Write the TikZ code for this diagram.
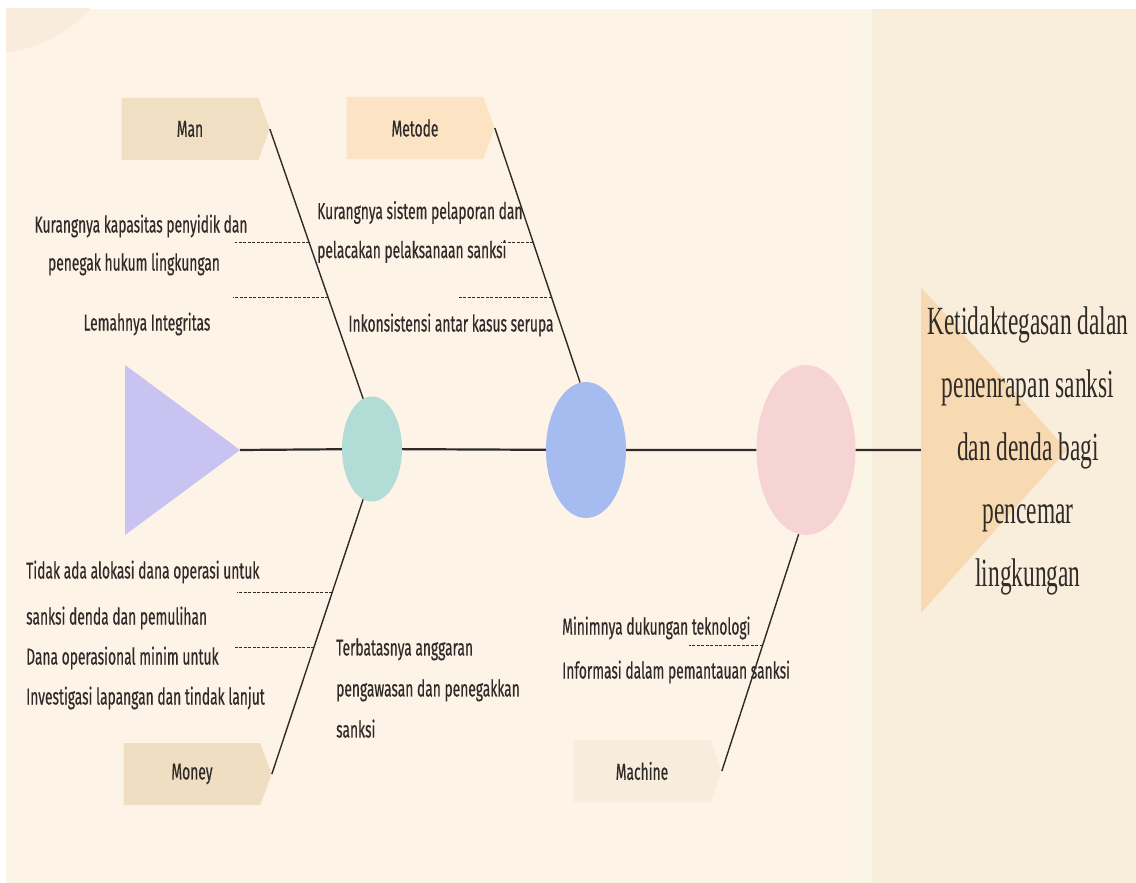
\documentclass[tikz,border=0pt]{standalone}
\usepackage{fontspec}
\newfontfamily\labelfont[FakeStretch=0.6,FakeBold=0.4]{Fira Sans}
\newfontfamily\headfont[FakeStretch=0.585]{Liberation Serif}
\usetikzlibrary{calc,shapes.geometric,shapes.symbols}
\definecolor{cream}{HTML}{FDF3E7}
\definecolor{panel}{HTML}{F9EDDC}
\definecolor{seam}{HTML}{FBF5E6}
\definecolor{corner}{HTML}{F9ECDC}
\definecolor{ink}{HTML}{2F2B28}
\definecolor{manc}{HTML}{F1DFC4}
\definecolor{metc}{HTML}{FCE3C3}
\definecolor{monc}{HTML}{F0DEC3}
\definecolor{macc}{HTML}{F8EDDC}
\definecolor{tailc}{HTML}{C9C3F1}
\definecolor{tealc}{HTML}{B2DDD6}
\definecolor{bluec}{HTML}{A6BBF0}
\definecolor{pinkc}{HTML}{F7D4D4}
\definecolor{headc}{HTML}{F8DAB2}
\begin{document}
\begin{tikzpicture}[x=1pt,y=-1pt,
  spine/.style={draw=ink,line width=2.2pt},
  bone/.style={draw=ink,line width=1.4pt},
  sub/.style={draw=ink,line width=0.9pt,dash pattern=on 3pt off 1.5pt},
  cat/.style={shape=signal,signal to=east,signal pointer angle=140,inner sep=0pt,
    minimum width=148pt,minimum height=62pt,text=ink,font=\labelfont\fontsize{23}{26}\selectfont},
  lbl/.style={inner sep=0pt,text=ink,align=left,font=\labelfont\fontsize{23}{40}\selectfont},
  blob/.style={ellipse,inner sep=0pt},
  fin/.style={isosceles triangle,isosceles triangle stretches,inner sep=0pt,outer sep=0pt,anchor=west}]
\useasboundingbox (0,0) rectangle (1136,883);
\fill[white] (0,0) rectangle (1136,883);
\fill[cream] (6,9) rectangle (872,883);
\fill[seam] (858,9) rectangle (872,883);
\fill[panel] (872,9) rectangle (1136,883);
\begin{scope}
\clip (6,9) rectangle (858,883);
\fill[corner] (-8,-77) circle (130);
\end{scope}

\node[fin,fill=tailc,minimum width=170pt,minimum height=115pt] (tail) at (125,450) {};
\node[fin,fill=headc,minimum width=326pt,minimum height=146pt] (head) at (921,450) {};
\node[blob,fill=tealc,minimum width=60pt,minimum height=105pt] (e1) at (372,449) {};
\node[blob,fill=bluec,minimum width=80pt,minimum height=136pt] (e2) at (586,450) {};
\node[blob,fill=pinkc,minimum width=99pt,minimum height=170pt] (e3) at (806,450) {};

\node[cat,fill=manc] (man) at (190,129) {Man};
\node[cat,fill=metc] (metode) at (415,128) {Metode};
\node[cat,fill=monc] (money) at (192,774) {Money};
\node[cat,fill=macc] (machine) at (642,771) {Machine};

\draw[spine] (tail.apex) -- (e1) (e1) -- (e2) (e2) -- (e3) (e3) -- (head);
\draw[bone] (man.east) -- (e1.100);
\draw[bone] (metode.east) -- (e2.95);
\draw[bone] (money.east) -- (e1.260);
\draw[bone] (machine.east) -- (e3.265);

\coordinate (man1) at ($(man.east)!0.422!(e1.100)$);
\coordinate (man2) at ($(man.east)!0.626!(e1.100)$);
\coordinate (met1) at ($(metode.east)!0.451!(e2.95)$);
\coordinate (met2) at ($(metode.east)!0.667!(e2.95)$);
\coordinate (mon1) at ($(money.east)!0.662!(e1.260)$);
\coordinate (mon2) at ($(money.east)!0.462!(e1.260)$);
\coordinate (mac1) at ($(machine.east)!0.532!(e3.265)$);
\draw[sub] (man1) -- ++(-74,0);
\draw[sub] (man2) -- ++(-95,0);
\draw[sub] (met1) -- ++(-32,0);
\draw[sub] (met2) -- ++(-93,0);
\draw[sub] (mon1) -- ++(-95,0);
\draw[sub] (mon2) -- ++(-81,0);
\draw[sub] (mac1) -- ++(-74,0);

\node[lbl] (c1) at (141,226) {Kurangnya kapasitas penyidik dan};
\node[lbl] (c2) at (134,264) {penegak hukum lingkungan};
\node[lbl] (c3) at (147,324) {Lemahnya Integritas};
\node[lbl,anchor=west,font=\labelfont\fontsize{23}{39}\selectfont] (c4) at (317,232) {Kurangnya sistem pelaporan dan\\pelacakan pelaksanaan sanksi};
\node[lbl] (c5) at (451,325) {Inkonsistensi antar kasus serupa};
\node[lbl,anchor=west,font=\labelfont\fontsize{23}{46}\selectfont] (c6) at (26,595) {Tidak ada alokasi dana operasi untuk\\sanksi denda dan pemulihan};
\node[lbl,anchor=west] (c7) at (26,678) {Dana operasional minim untuk\\Investigasi lapangan dan tindak lanjut};
\node[lbl,anchor=west,font=\labelfont\fontsize{23}{41}\selectfont] (c8) at (336,688) {Terbatasnya anggaran\\pengawasan dan penegakkan\\sanksi};
\node[lbl,anchor=west,font=\labelfont\fontsize{23}{44}\selectfont] (c9) at (562,650) {Minimnya dukungan teknologi\\Informasi dalam pemantauan sanksi};

\node[inner sep=0pt,align=center,text=ink,font=\headfont\fontsize{40}{63}\selectfont] (effect) at (1028,451)
  {Ketidaktegasan dalan\\penenrapan sanksi\\dan denda bagi\\pencemar\\lingkungan};
\end{tikzpicture}
\end{document}
